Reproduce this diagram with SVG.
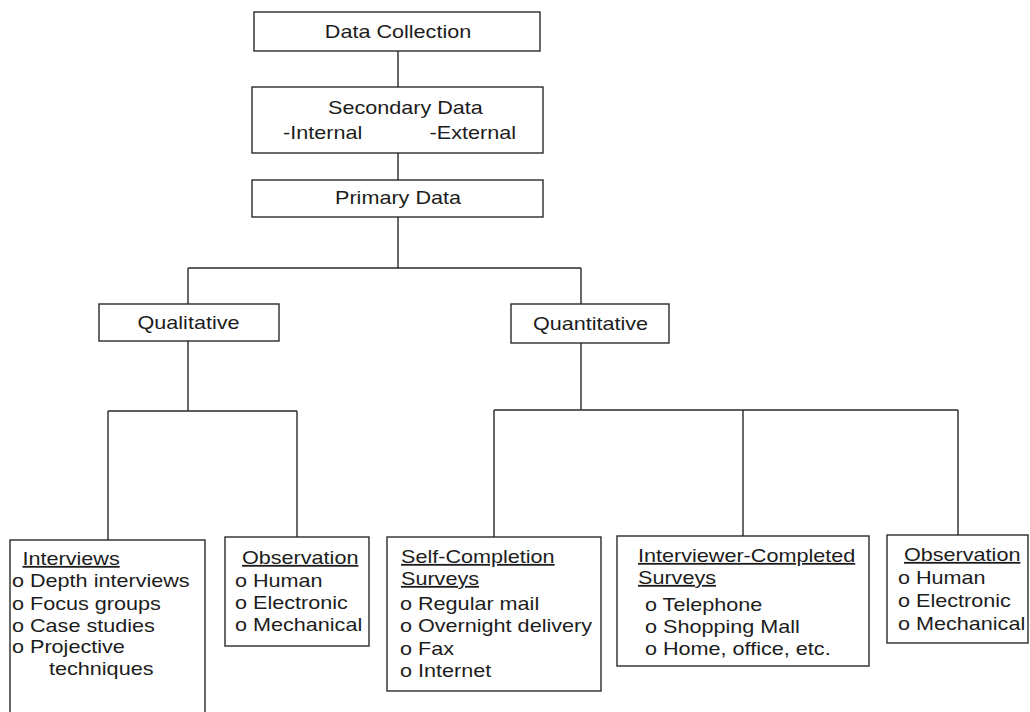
<svg xmlns="http://www.w3.org/2000/svg" width="1030" height="712" viewBox="0 0 1030 712">
<style>
.bx{fill:#fff;stroke:#2a2a2a;stroke-width:1.4}
.cn{fill:none;stroke:#2a2a2a;stroke-width:1.4}
text{font-family:"Liberation Sans",Arial,sans-serif;font-size:18px;fill:#1c1c1c}
.m{text-anchor:middle}
.e{text-anchor:end}
.u{text-decoration:underline}
</style>
<rect width="1030" height="712" fill="#fff"/>
<g id="connectors">
<path class="cn" d="M398 51V87M398 153V180M398 217V268M188 268H581M188 268V304M581 268V304M188 341V411M108 411H297M108 411V540M297 411V537M581 343V410M494 410H958M494 410V537M743 410V536M958 410V535"/>
</g>
<g id="data-collection">
<rect class="bx" x="254" y="12" width="286" height="39"/>
<text class="m" transform="translate(398 38) scale(1.2 1)">Data Collection</text>
</g>
<g id="secondary-data">
<rect class="bx" x="252" y="87" width="291" height="66"/>
<text transform="translate(328 114) scale(1.2 1)">Secondary Data</text>
<text transform="translate(283 139) scale(1.2 1)">-Internal</text>
<text class="e" transform="translate(516 139) scale(1.2 1)">-External</text>
</g>
<g id="primary-data">
<rect class="bx" x="252" y="180" width="291" height="37"/>
<text class="m" transform="translate(398 204) scale(1.2 1)">Primary Data</text>
</g>
<g id="qualitative">
<rect class="bx" x="99" y="304" width="180" height="37"/>
<text class="m" transform="translate(188.5 329) scale(1.2 1)">Qualitative</text>
</g>
<g id="quantitative">
<rect class="bx" x="511" y="304" width="158" height="39"/>
<text class="m" transform="translate(590.5 330) scale(1.2 1)">Quantitative</text>
</g>
<g id="interviews">
<rect class="bx" x="10" y="540" width="195" height="190"/>
<text class="u" transform="translate(22.5 565) scale(1.2 1)">Interviews</text>
<text transform="translate(12 587) scale(1.2 1)">o Depth interviews</text>
<text transform="translate(12 610) scale(1.2 1)">o Focus groups</text>
<text transform="translate(12 632) scale(1.2 1)">o Case studies</text>
<text transform="translate(12 653) scale(1.2 1)">o Projective</text>
<text transform="translate(49 675) scale(1.2 1)">techniques</text>
</g>
<g id="observation-qual">
<rect class="bx" x="225" y="537" width="144" height="109"/>
<text class="u" transform="translate(242 564) scale(1.2 1)">Observation</text>
<text transform="translate(235 587) scale(1.2 1)">o Human</text>
<text transform="translate(235 609) scale(1.2 1)">o Electronic</text>
<text transform="translate(235 631) scale(1.2 1)">o Mechanical</text>
</g>
<g id="self-completion">
<rect class="bx" x="387" y="537" width="214" height="154"/>
<text class="u" transform="translate(401 563) scale(1.2 1)">Self-Completion</text>
<text class="u" transform="translate(401 585) scale(1.2 1)">Surveys</text>
<text transform="translate(400 610) scale(1.2 1)">o Regular mail</text>
<text transform="translate(400 632) scale(1.2 1)">o Overnight delivery</text>
<text transform="translate(400 655) scale(1.2 1)">o Fax</text>
<text transform="translate(400 677) scale(1.2 1)">o Internet</text>
</g>
<g id="interviewer-completed">
<rect class="bx" x="617" y="536" width="252" height="130"/>
<text class="u" transform="translate(638 562) scale(1.2 1)">Interviewer-Completed</text>
<text class="u" transform="translate(638 584) scale(1.2 1)">Surveys</text>
<text transform="translate(645 611) scale(1.2 1)">o Telephone</text>
<text transform="translate(645 633) scale(1.2 1)">o Shopping Mall</text>
<text transform="translate(645 655) scale(1.2 1)">o Home, office, etc.</text>
</g>
<g id="observation-quant">
<rect class="bx" x="887" y="535" width="141" height="108"/>
<text class="u" transform="translate(904 561) scale(1.2 1)">Observation</text>
<text transform="translate(898 584) scale(1.2 1)">o Human</text>
<text transform="translate(898 607) scale(1.2 1)">o Electronic</text>
<text transform="translate(898 630) scale(1.2 1)">o Mechanical</text>
</g>
</svg>
